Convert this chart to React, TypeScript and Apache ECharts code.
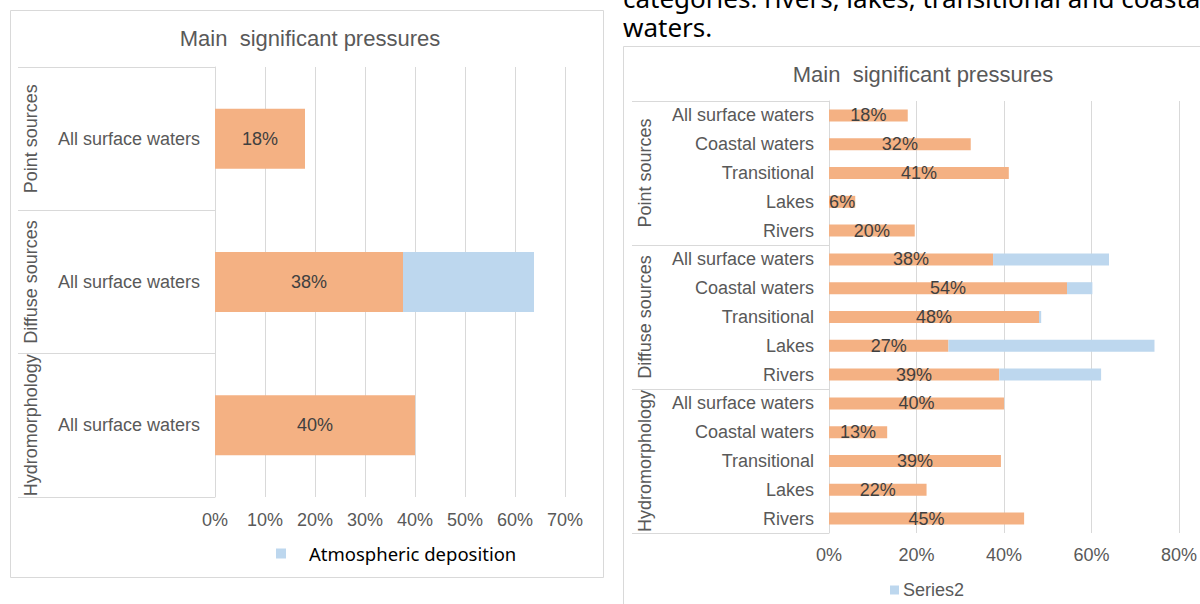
import React, { useEffect, useRef } from "react";
import * as echarts from "echarts";

const groups = ["Point sources", "Diffuse sources", "Hydromorphology"];

// Left chart
const leftItems = ["All surface waters", "All surface waters", "All surface waters"];
const leftMain = [18, 37.6, 40];
const leftAtmospheric = [null, 26.2, null];
const leftTicks = [0, 10, 20, 30, 40, 50, 60, 70];

// Right chart
const rightItems = [
  "All surface waters", "Coastal waters", "Transitional", "Lakes", "Rivers",
  "All surface waters", "Coastal waters", "Transitional", "Lakes", "Rivers",
  "All surface waters", "Coastal waters", "Transitional", "Lakes", "Rivers",
];
const rightSeries1 = [
  18, 32.4, 41.1, 6, 19.6,
  37.5, 54.4, 48, 27.3, 38.9,
  40, 13.3, 39.3, 22.3, 44.6,
];
const rightSeries2 = [
  null, null, null, null, null,
  26.5, 5.8, 0.5, 47.1, 23.3,
  null, null, null, null, null,
];
const rightTicks = [0, 20, 40, 60, 80];

const FONT = "'Liberation Sans', Arial, sans-serif";
const GREY = "#595959";
const LINE = "#d9d9d9";
const ORANGE = "#F4B183";
const BLUE = "#BDD7EE";

export default function App() {
  const ref = useRef<HTMLDivElement>(null);
  useEffect(() => {
    if (!ref.current) return;
    const chart = echarts.init(ref.current, null, { renderer: "svg" });
    const valueLabel = {
      show: true,
      position: "inside",
      color: "#404040",
      fontSize: 18,
      fontFamily: FONT,
      formatter: (p: any) => (p.value == null ? "" : Math.round(p.value) + "%"),
    };
    const xAxisBase = (gridIndex: number, max: number, interval: number, margin: number) => ({
      type: "value",
      gridIndex,
      min: 0,
      max,
      interval,
      axisLine: { show: false },
      axisTick: { show: false },
      splitLine: { show: true, lineStyle: { color: LINE, width: 1 } },
      axisLabel: {
        formatter: (v: number) => v + "%",
        color: GREY,
        fontSize: 18,
        fontFamily: FONT,
        margin,
      },
    });
    const itemAxis = (gridIndex: number, data: string[]) => ({
      type: "category",
      gridIndex,
      position: "left",
      inverse: true,
      data,
      axisLine: { show: true, lineStyle: { color: LINE } },
      axisTick: { show: false },
      axisLabel: { interval: 0, margin: 15, color: GREY, fontSize: 18, fontFamily: FONT },
    });
    const groupAxis = (gridIndex: number) => ({
      type: "category",
      gridIndex,
      position: "left",
      offset: 0,
      inverse: true,
      data: groups,
      axisLine: { show: false },
      axisTick: { show: true, length: 197, lineStyle: { color: LINE } },
      axisLabel: {
        interval: 0,
        rotate: 90,
        margin: 175,
        color: GREY,
        fontSize: 18,
        fontFamily: FONT,
      },
    });
    chart.setOption({
      animation: false,
      backgroundColor: "#ffffff",
      title: [
        {
          text: "Main  significant pressures",
          left: 305,
          top: 22,
          textAlign: "center",
          textStyle: { color: GREY, fontSize: 22, fontWeight: "normal", fontFamily: FONT },
        },
        {
          text: "Main  significant pressures",
          left: 918,
          top: 58,
          textAlign: "center",
          textStyle: { color: GREY, fontSize: 22, fontWeight: "normal", fontFamily: FONT },
        },
      ],
      legend: [
        {
          data: ["Atmospheric deposition"],
          left: 271,
          top: 539,
          icon: "rect",
          itemWidth: 10,
          itemHeight: 10,
          selectedMode: false,
          textStyle: {
            color: "#000000",
            fontSize: 18.5,
            fontFamily: "'Noto Sans', sans-serif",
            padding: [0, 0, 0, 18],
          },
        },
        {
          data: ["Series2"],
          left: 885,
          top: 576,
          icon: "rect",
          itemWidth: 9,
          itemHeight: 9,
          selectedMode: false,
          textStyle: { color: GREY, fontSize: 18, fontFamily: FONT, padding: [0, 0, 0, -1] },
        },
      ],
      grid: [
        { left: 215, top: 67, width: 350, height: 430, containLabel: false },
        { left: 829, top: 101, width: 350, height: 432, containLabel: false },
      ],
      xAxis: [
        xAxisBase(0, leftTicks[leftTicks.length - 1], leftTicks[1] - leftTicks[0], 14),
        xAxisBase(1, rightTicks[rightTicks.length - 1], rightTicks[1] - rightTicks[0], 13),
      ],
      yAxis: [itemAxis(0, leftItems), groupAxis(0), itemAxis(1, rightItems), groupAxis(1)],
      series: [
        {
          name: "Main",
          type: "bar",
          xAxisIndex: 0,
          yAxisIndex: 0,
          stack: "left",
          barWidth: 60,
          data: leftMain,
          itemStyle: { color: ORANGE },
          label: valueLabel,
        },
        {
          name: "Atmospheric deposition",
          type: "bar",
          xAxisIndex: 0,
          yAxisIndex: 0,
          stack: "left",
          barWidth: 60,
          data: leftAtmospheric,
          itemStyle: { color: BLUE },
        },
        {
          name: "Series1",
          type: "bar",
          xAxisIndex: 1,
          yAxisIndex: 2,
          stack: "right",
          barWidth: 12,
          data: rightSeries1,
          itemStyle: { color: ORANGE },
          label: valueLabel,
        },
        {
          name: "Series2",
          type: "bar",
          xAxisIndex: 1,
          yAxisIndex: 2,
          stack: "right",
          barWidth: 12,
          data: rightSeries2,
          itemStyle: { color: BLUE },
        },
      ],
      graphic: [
        {
          type: "rect",
          silent: true,
          z: -1,
          shape: { x: 10.5, y: 10.5, width: 593, height: 567 },
          style: { fill: "none", stroke: LINE, lineWidth: 1 },
        },
        {
          type: "rect",
          silent: true,
          z: -1,
          shape: { x: 623.5, y: 46.5, width: 620, height: 620 },
          style: { fill: "none", stroke: LINE, lineWidth: 1 },
        },
        {
          type: "text",
          left: 623,
          top: -15,
          style: {
            text: "categories: rivers, lakes, transitional and coastal",
            fill: "#000000",
            font: "26px 'Noto Sans', sans-serif",
            lineHeight: 24,
          },
        },
        {
          type: "text",
          left: 623,
          top: 14,
          style: {
            text: "waters.",
            fill: "#000000",
            font: "26px 'Noto Sans', sans-serif",
            lineHeight: 24,
          },
        },
      ],
    });
    return () => chart.dispose();
  }, []);
  return (
    <div
      ref={ref}
      style={{ position: "absolute", left: 0, top: 0, width: 1200, height: 604, background: "#fff" }}
    />
  );
}
